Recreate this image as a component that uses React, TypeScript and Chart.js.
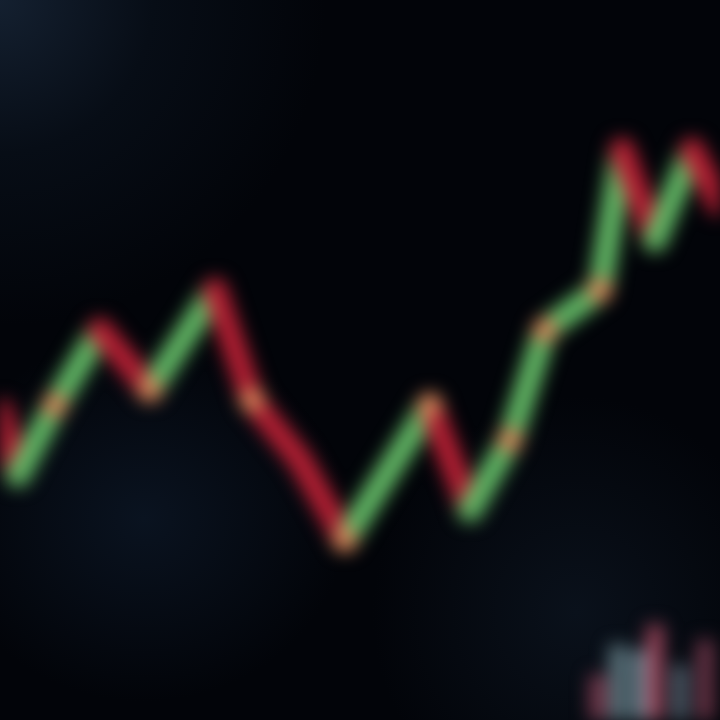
import React, { useEffect, useRef } from "react";
import { Chart, registerables } from "chart.js";
Chart.register(...registerables);

// time positions (session index) and price level
const times = [0, 18, 55, 100, 150, 215, 252, 300, 345, 430, 470, 510, 545, 600, 622, 655, 692, 720];
const prices = [310, 245, 315, 390, 330, 430, 320, 260, 180, 315, 210, 280, 390, 430, 570, 480, 570, 515];
const markerIdx = [2, 4, 6, 8, 9, 11, 12, 13];

// volume bars (bottom right)
const volTimes = [598, 618, 640, 655, 680, 705];
const volValues = [45, 75, 70, 95, 55, 80];
const volColors = ["#7a3a4e", "#5f7880", "#6a838e", "#9a4459", "#4d5c68", "#6e3548"];

const GREEN = "#62b865";
const RED = "#b51f33";
const ORANGE = "#d9855a";

export default function App() {
  const ref = useRef<HTMLCanvasElement | null>(null);
  useEffect(() => {
    if (!ref.current) return;
    const linePts = times.map((t, i) => ({ x: t, y: prices[i] }));
    const volPts = volTimes.map((t, i) => ({ x: t, y: volValues[i] }));
    const chart = new Chart(ref.current, {
      type: "line",
      data: {
        datasets: [
          {
            type: "line",
            data: linePts,
            borderWidth: 24,
            borderCapStyle: "round",
            borderJoinStyle: "round",
            tension: 0,
            pointRadius: times.map((_, i) => (markerIdx.includes(i) ? 12 : 0)),
            pointBackgroundColor: ORANGE,
            pointBorderWidth: 0,
            borderColor: GREEN,
            segment: {
              borderColor: (c: any) => (c.p1.parsed.y >= c.p0.parsed.y ? GREEN : RED),
            },
            clip: false,
            yAxisID: "y",
            order: 1,
          } as any,
          {
            type: "bar",
            data: volPts,
            backgroundColor: volColors,
            barThickness: 16,
            yAxisID: "y2",
            order: 2,
          } as any,
        ],
      },
      options: {
        animation: false,
        responsive: false,
        maintainAspectRatio: false,
        layout: { padding: 0 },
        plugins: { legend: { display: false }, tooltip: { enabled: false } },
        scales: {
          x: { type: "linear", min: 0, max: 720, display: false, offset: false },
          y: { min: 0, max: 720, display: false },
          y2: { min: 0, max: 720, display: false },
        },
      },
    });
    return () => chart.destroy();
  }, []);
  return (
    <div
      style={{
        position: "fixed",
        left: 0,
        top: 0,
        width: 720,
        height: 720,
        overflow: "hidden",
        background:
          "radial-gradient(ellipse at 0% 0%, #142030 0%, #070d16 15%, rgba(2,4,8,0) 32%), radial-gradient(ellipse at 20% 72%, #0a1320 0%, rgba(2,4,8,0) 25%), radial-gradient(ellipse at 80% 85%, #0a111b 0%, rgba(2,4,8,0) 25%), #020409",
      }}
    >
      <canvas
        ref={ref}
        width={720}
        height={720}
        style={{ width: 720, height: 720, filter: "blur(9px)", display: "block" }}
      />
    </div>
  );
}
